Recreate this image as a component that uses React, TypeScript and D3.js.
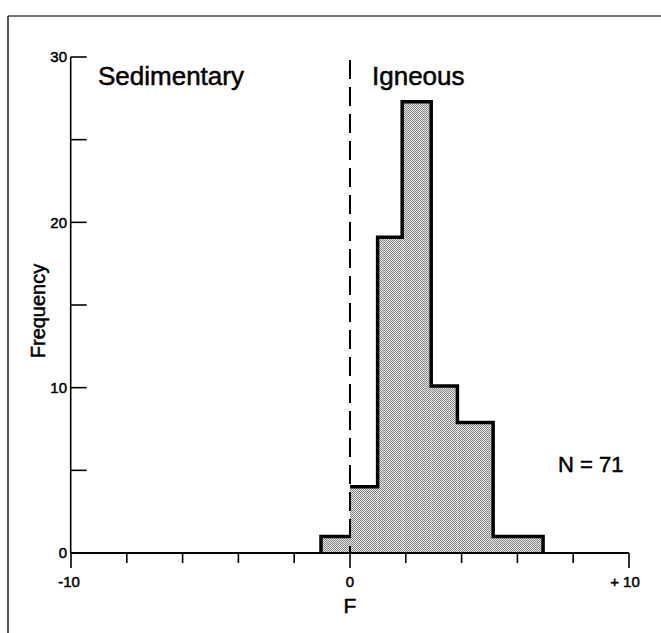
import React from "react";
import * as d3 from "d3";

// Histogram of F (discriminant score) — bin edges and frequencies
const binEdges = [-1.04, 0, 0.99, 1.87, 2.91, 3.85, 5.13, 6.92];
const binCounts = [1, 4, 19.1, 27.3, 10.1, 7.9, 1];

const yTicks = [0, 5, 10, 15, 20, 25, 30];
const yTickLabels = [0, 10, 20, 30];
const xTicks = [-10, -8, -6, -4, -2, 0, 2, 4, 6, 8, 10];
const xTickLabels = [
  { v: -10, t: "-10" },
  { v: 0, t: "0" },
  { v: 10, t: "+ 10" },
];
const xLongTicks = [-10, 0, 10];

const regionLabels = [
  { v: -10, t: "Sedimentary", dx: 27 },
  { v: 0, t: "Igneous", dx: 22 },
];
const sampleSizeLabel = "N = 71";
const xTitle = "F";
const yTitle = "Frequency";

export default function App() {
  const W = 661;
  const H = 633;
  const x = d3.scaleLinear().domain([-10, 10]).range([71, 629]);
  const y = d3.scaleLinear().domain([0, 30]).range([553, 57]);
  const axisX = 70.7;
  const font = "'Liberation Sans', Arial, Helvetica, sans-serif";

  // Step outline of histogram
  const outline = d3.path();
  outline.moveTo(x(binEdges[0]), y(0));
  outline.lineTo(x(binEdges[0]), y(binCounts[0]));
  outline.lineTo(x(binEdges[1]), y(binCounts[0]));
  outline.moveTo(x(binEdges[1]), y(binCounts[1]));
  for (let i = 1; i < binCounts.length; i++) {
    outline.lineTo(x(binEdges[i + 1]), y(binCounts[i]));
    const next = i + 1 < binCounts.length ? binCounts[i + 1] : 0;
    outline.lineTo(x(binEdges[i + 1]), y(next));
  }

  const thick = { stroke: "#000", strokeWidth: 0.5 };

  return (
    <svg
      width={W}
      height={H}
      style={{ position: "absolute", left: 0, top: 0, background: "#fff" }}
      fontFamily={font}
    >
      <defs>
        <pattern id="stipple" width="2" height="2" patternUnits="userSpaceOnUse">
          <rect width="2" height="2" fill="#e4e4e4" />
          <rect x="0" y="0" width="1" height="1" fill="#8a8a8a" />
          <rect x="1" y="1" width="1" height="1" fill="#8a8a8a" />
        </pattern>
      </defs>
      <rect width={W} height={H} fill="#fff" />

      {/* frame */}
      <line x1={8} y1={16} x2={W} y2={16} stroke="#444" strokeWidth={1.5} />
      <line x1={8} y1={16} x2={8} y2={H} stroke="#222" strokeWidth={1.5} />

      {/* histogram bars (fill) */}
      {binCounts.map((c, i) => (
        <rect
          key={i}
          x={x(binEdges[i])}
          y={y(c)}
          width={x(binEdges[i + 1]) - x(binEdges[i])}
          height={y(0) - y(c)}
          fill="url(#stipple)"
        />
      ))}
      <path d={outline.toString()} fill="none" stroke="#000" strokeWidth={3.5} strokeLinejoin="miter" />

      {/* dashed divider at F = 0 */}
      <line
        x1={x(0)}
        x2={x(0)}
        y1={60}
        y2={y(0)}
        stroke="#000"
        strokeWidth={2}
        strokeDasharray="19 8"
      />

      {/* y axis */}
      <line x1={axisX} x2={axisX} y1={y(30)} y2={y(0)} stroke="#000" strokeWidth={1.6} />
      {yTicks.map((t) => (
        <line key={t} x1={axisX} x2={axisX + 16} y1={y(t)} y2={y(t)} stroke="#000" strokeWidth={1.6} />
      ))}
      {yTickLabels.map((t) => (
        <text key={t} x={67} y={y(t)} dy="0.35em" textAnchor="end" fontSize={15} fill="#000" {...thick}>
          {t}
        </text>
      ))}

      {/* x axis */}
      <line x1={axisX} x2={x(10)} y1={y(0)} y2={y(0)} stroke="#000" strokeWidth={2} />
      {xTicks.map((t) => (
        <line
          key={t}
          x1={x(t)}
          x2={x(t)}
          y1={y(0)}
          y2={y(0) + (xLongTicks.includes(t) ? 15 : 10)}
          stroke="#000"
          strokeWidth={1.6}
        />
      ))}
      {xTickLabels.map((d) => (
        <text
          key={d.v}
          x={x(d.v) + (d.v === 10 ? -4 : d.v === -10 ? -2 : 0)}
          y={587}
          textAnchor="middle"
          fontSize={15}
          fill="#000"
          {...thick}
        >
          {d.t}
        </text>
      ))}

      {/* axis titles */}
      <text x={x(0)} y={613} textAnchor="middle" fontSize={21} fill="#000" {...thick}>
        {xTitle}
      </text>
      <text
        transform={`translate(45, 311) rotate(-90)`}
        textAnchor="middle"
        fontSize={20}
        fill="#000"
        {...thick}
      >
        {yTitle}
      </text>

      {/* region labels */}
      {regionLabels.map((d) => (
        <text key={d.t} x={x(d.v) + d.dx} y={85} fontSize={26} fill="#000" {...thick}>
          {d.t}
        </text>
      ))}

      <text x={558} y={472} fontSize={22} fill="#000" {...thick}>
        {sampleSizeLabel}
      </text>
    </svg>
  );
}
